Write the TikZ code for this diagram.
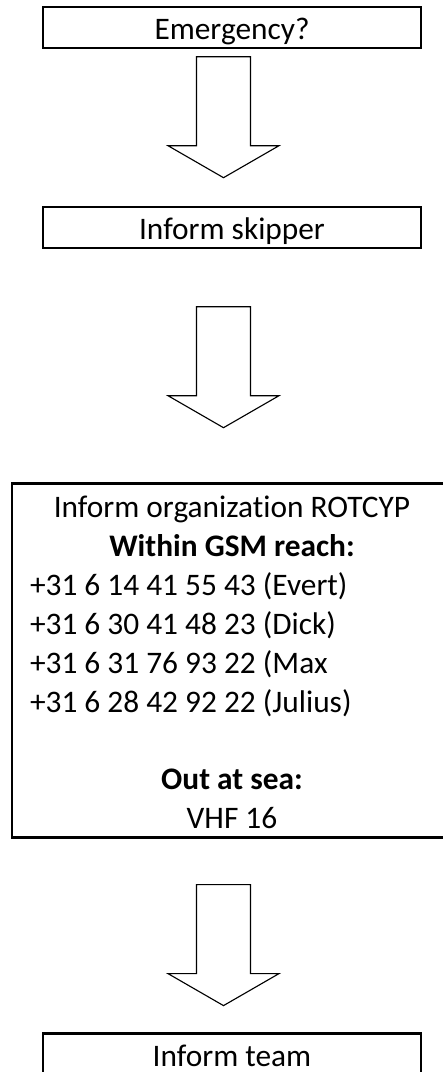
\documentclass[tikz,border=0pt]{standalone}
\usepackage{fontspec}
\setmainfont{Carlito}[Ligatures=NoCommon]
\usetikzlibrary{positioning}
\setlength{\parindent}{0pt}
\tikzset{
  stepbox/.style={
    rectangle, draw=black, line width=1.6pt, outer sep=0pt,
    minimum width=9.45cm, minimum height=1.025cm, inner sep=0pt,
    text height=0.7cm, text depth=0.075cm,
    font=\fontsize{22.3pt}{27.7pt}\selectfont
  },
  infobox/.style={
    rectangle, draw=black, line width=1.6pt, outer sep=0pt,
    minimum width=11cm, minimum height=8.85cm,
    text width=10.1cm, align=left, inner sep=0pt,
    text height=0.8cm, text depth=7.965cm,
    font=\fontsize{22.3pt}{27.7pt}\selectfont
  },
  blockarrow/.pic={
    \draw[line width=0.8pt, fill=white]
      (-0.675,0) -- (0.675,0) -- (0.675,-2.225) -- (1.3875,-2.225)
      -- (0,-3.025) -- (-1.3875,-2.225) -- (-0.675,-2.225) -- cycle;
  }
}

\begin{document}
\begin{tikzpicture}
    \useasboundingbox (0,0) rectangle (11.05,-26.8);
    % Stappen
    \node[stepbox] (emerg) at (5.8,-0.6875) {Emergency?};
    \node[stepbox, below=3.975cm of emerg] (skipper) {Inform skipper};
    \node[infobox, below=5.89cm of skipper] (rotcyp) {%
      \spaceskip=0pt \xspaceskip=0pt
      {\centering Inform organization ROTCYP\\
      \textbf{Within GSM reach:}\par}
      +31 6 14 41 55 43 (Evert)\\
      +31 6 30 41 48 23 (Dick)\\
      +31 6 31 76 93 22 (Max\\
      +31 6 28 42 92 22 (Julius)\par
      \vspace{\baselineskip}
      {\centering \textbf{Out at sea:}\\
      VHF 16\par}};
    \node[stepbox, below=4.9cm of rotcyp] (team) {Inform team};

    % Pijlen
    \pic at ([xshift=-0.2125cm, yshift=-0.2175cm]emerg.south) {blockarrow};
    \pic at ([xshift=-0.2125cm, yshift=-1.4675cm]skipper.south) {blockarrow};
    \pic at ([xshift=-0.2125cm, yshift=-1.175cm]rotcyp.south) {blockarrow};
\end{tikzpicture}
\end{document}
